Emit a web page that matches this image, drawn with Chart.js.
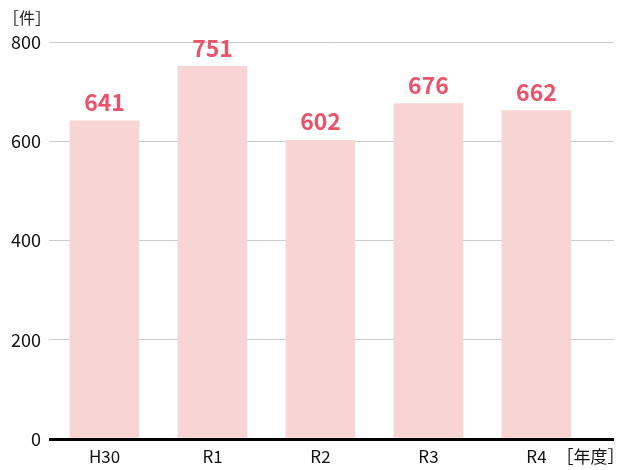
<!DOCTYPE html>
<html>
<head>
<meta charset="utf-8">
<script src="https://cdn.jsdelivr.net/npm/chart.js@4"></script>
<style>
  html, body { margin: 0; padding: 0; background: #fff; }
  #wrap { width: 617px; height: 470px; }
</style>
</head>
<body>
<div id="wrap"><canvas id="countChart"></canvas></div>
<script>
// data
const categories = ['H30', 'R1', 'R2', 'R3', 'R4'];
const counts = [641, 751, 602, 676, 662];
const yTicks = [0, 200, 400, 600, 800];
const unitY = '［件］';
const unitX = '［年度］';

const FONT = '"Noto Sans CJK JP", "Noto Sans", sans-serif';

// value labels above bars + unit label in the corner
const labelPlugin = {
    id: 'labels',
    afterDatasetsDraw(chart) {
        const ctx = chart.ctx;
        const meta = chart.getDatasetMeta(0);
        ctx.save();
        ctx.fillStyle = '#e9546b';
        ctx.font = 'bold 23px ' + FONT;
        ctx.textAlign = 'center';
        ctx.textBaseline = 'bottom';
        meta.data.forEach((bar, i) => {
            ctx.fillText(counts[i], bar.x, bar.y - 7);
        });
        ctx.fillStyle = '#222';
        ctx.font = '16px ' + FONT;
        ctx.textAlign = 'left';
        ctx.textBaseline = 'middle';
        ctx.fillText(unitY, 3, 18);
        ctx.restore();
    }
};

new Chart(document.getElementById('countChart'), {
    type: 'bar',
    data: {
        datasets: [{
            data: counts.map((v, i) => ({ x: i, y: v })),
            backgroundColor: '#f8d4d4',
            barThickness: 69
        }]
    },
    options: {
        responsive: true,
        maintainAspectRatio: false,
        animation: false,
        layout: { padding: { top: 42, right: 3, left: 0, bottom: 0 } },
        plugins: {
            legend: { display: false },
            tooltip: { enabled: false }
        },
        scales: {
            x: {
                type: 'linear',
                offset: false,
                min: -0.514,
                max: 4.718,
                grid: { display: false, drawTicks: false },
                border: { display: false },
                afterBuildTicks: s => {
                    s.ticks = [0, 1, 2, 3, 4, 4.5].map(v => ({ value: v }));
                },
                afterFit: s => {
                    s.height = 31;
                    s.paddingLeft = 0;
                    s.paddingRight = 0;
                },
                ticks: {
                    color: '#111',
                    padding: 7,
                    maxRotation: 0,
                    autoSkip: false,
                    font: { family: FONT, size: 17 },
                    callback: (v, i) => i < categories.length ? categories[i] : unitX
                }
            },
            y: {
                min: 0,
                max: 800,
                afterBuildTicks: s => {
                    s.ticks = yTicks.map(v => ({ value: v }));
                },
                afterFit: s => { s.width = 49; },
                border: { display: false },
                grid: {
                    drawTicks: false,
                    color: c => c.tick && c.tick.value === 0 ? '#000' : '#cccccc',
                    lineWidth: c => c.tick && c.tick.value === 0 ? 3 : 1
                },
                ticks: {
                    color: '#111',
                    padding: 8,
                    font: { family: FONT, size: 18 }
                }
            }
        }
    },
    plugins: [labelPlugin]
});
</script>
</body>
</html>
